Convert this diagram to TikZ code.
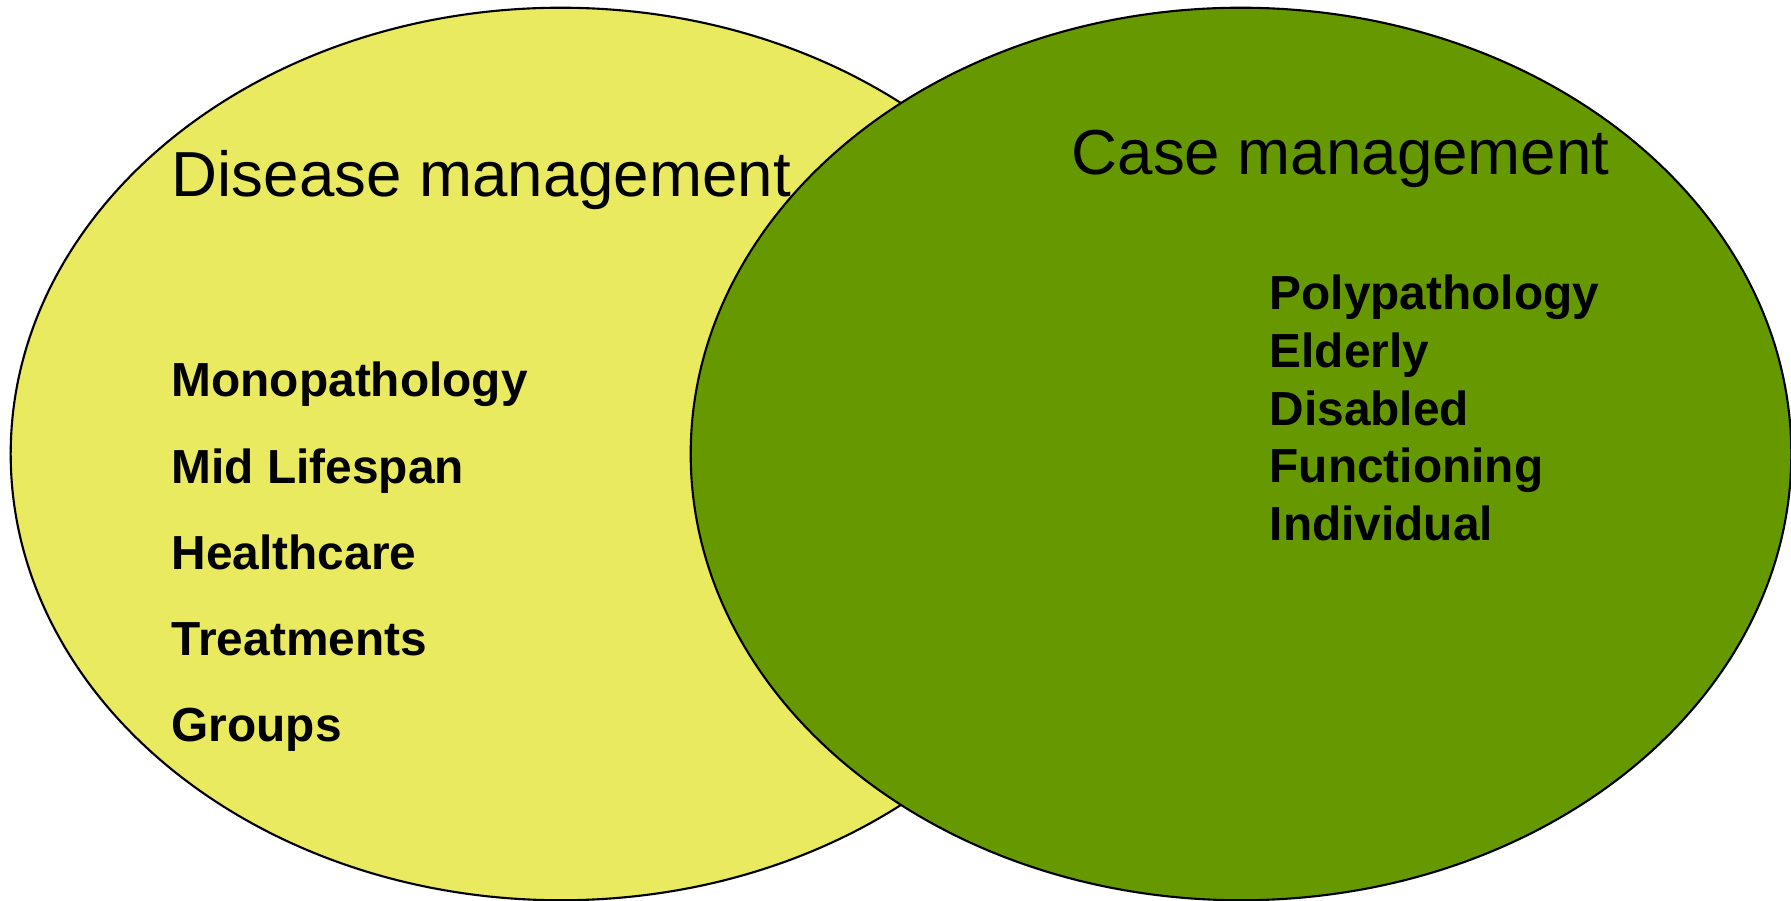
\documentclass[tikz,border=0pt]{standalone}
\usepackage{fontspec}
\setmainfont{Liberation Sans}
\usepackage{tikz}

\definecolor{dmyellow}{RGB}{234,234,96}
\definecolor{cmgreen}{RGB}{102,153,0}

\begin{document}
\begin{tikzpicture}[x=0.01cm, y=-0.01cm,
  heading/.style={anchor=base west, inner sep=0pt, font=\fontsize{18.1}{22}\selectfont},
  item/.style={anchor=base west, inner sep=0pt, font=\fontsize{13.6}{16}\selectfont\bfseries}]
  \useasboundingbox (0,0) rectangle (1791,901);
  \draw[fill=dmyellow, line width=0.6pt] (561,454) ellipse [x radius=5.50cm, y radius=4.46cm];
  \draw[fill=cmgreen, line width=0.6pt] (1241,454) ellipse [x radius=5.50cm, y radius=4.46cm];
  \node[heading] (dm) at (171,197) {Disease management};
  \node[heading] (cm) at (1071,175) {Case management};
  \node[item] (mono) at (171,397) {Monopathology};
  \node[item] (mid) at (171,483.5) {Mid Lifespan};
  \node[item] (health) at (171,570) {Healthcare};
  \node[item] (treat) at (171,656) {Treatments};
  \node[item] (groups) at (171,742) {Groups};
  \node[item] (poly) at (1269,310) {Polypathology};
  \node[item] (elderly) at (1269,368) {Elderly};
  \node[item] (disabled) at (1269,426) {Disabled};
  \node[item] (func) at (1269,483) {Functioning};
  \node[item] (indiv) at (1269,541) {Individual};
\end{tikzpicture}
\end{document}
